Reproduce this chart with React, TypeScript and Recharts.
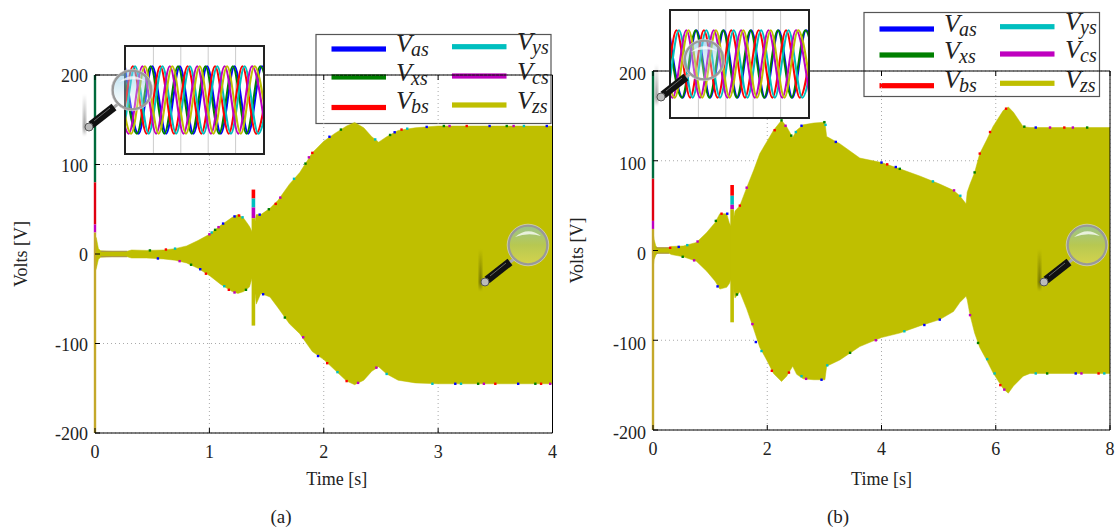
import { ComposedChart, Area, Line, Scatter, XAxis, YAxis, CartesianGrid, ReferenceLine } from "recharts";

const FONT = "'Liberation Serif', 'Times New Roman', serif";
const INK = "#222";

const names = ["as", "xs", "bs", "ys", "cs", "zs"];
const colors = ["#0000ff", "#008000", "#ff0000", "#00bfbf", "#bf00bf", "#bfbf00"];
const yTicks = [-200, -100, 0, 100, 200];

// panel (a) envelope
const timeA = [0, 0.012, 0.03, 0.05, 0.15, 0.28, 0.32, 0.45, 0.6, 0.7, 0.8, 0.9, 1.0, 1.1, 1.2, 1.25, 1.3, 1.35, 1.38, 1.41, 1.45, 1.53, 1.6, 1.7, 1.79, 1.9, 2.0, 2.1, 2.2, 2.27, 2.35, 2.42, 2.48, 2.55, 2.65, 2.8, 3.0, 3.2, 3.5, 3.8, 4.0];
const upperA = [20, 18, 6, 3.5, 3, 3, 4.5, 4, 4.5, 6, 9, 15, 22, 32, 41, 44, 40, 31, 23, 44, 44, 51, 60, 78, 91, 113, 126, 135, 143, 147, 141, 131, 125, 131, 138, 141, 143, 143, 143, 143, 143];
const lowerA = [-20, -16, -6, -3.5, -3, -3, -4.5, -4.5, -5.5, -7, -10, -16, -24, -34, -42, -44, -42, -37, -24, -56, -44, -48, -60, -78, -89, -109, -118, -130, -142, -146, -141, -131, -126, -134, -141, -144, -145, -145, -145, -145, -145];

// panel (b) envelope
const timeB = [0, 0.02, 0.05, 0.08, 0.2, 0.28, 0.32, 0.53, 0.76, 0.94, 1.085, 1.17, 1.29, 1.335, 1.38, 1.435, 1.52, 1.64, 1.76, 1.87, 1.99, 2.11, 2.25, 2.34, 2.445, 2.515, 2.63, 2.81, 3.01, 3.04, 3.27, 3.62, 4.0, 4.32, 4.67, 5.02, 5.26, 5.37, 5.48, 5.5, 5.55, 5.63, 5.72, 5.84, 5.95, 6.13, 6.22, 6.31, 6.48, 6.6, 7.2, 8.0];
const upperB = [20, 12, 5, 3, 3, 3, 4.5, 5, 9, 20, 31, 41, 41, 31, 25, 44, 50, 70, 89, 108, 121, 134, 145, 138, 126, 134, 140, 142, 143, 127, 119, 103, 98, 91, 83, 74, 67, 61, 52, 65, 74, 87, 108, 123, 138, 156, 160, 154, 138, 137, 137, 137];
const lowerB = [-20, -10, -5, -3, -3, -3, -4.5, -7, -12, -23, -34, -43, -41, -37, -30, -53, -46, -65, -87, -108, -122, -137, -146, -140, -129, -138, -143, -144, -144, -129, -122, -107, -97, -92, -84, -77, -68, -58, -51, -55, -72, -92, -108, -122, -136, -154, -159, -151, -140, -137, -137, -137];

// brown rim of the quiet stretch right after start-up
const quietEdge = 3;
const quietStart = 0.05;
const quietEndA = 0.28;

// short stubs at t=0 and the switching instant, top of each colour, top down
const startPeaks = [200, 80, 33, 24];
const startBottom = -200;
const startColors = ["#006b3c", "#e00010", "#bf00bf", "#c4a82a"];
const stepPeaksA = [72, 62, 52, 40];
const stepPeaksB = [73, 61, 51, 46];
const stepBottom = -80;
const stepColors = ["#ff0000", "#00bfbf", "#bf00bf", "#bfbf00"];

// coloured specks that stick out past the yellow trace: [t, v]
const specksA: [number, number][][] = [
    [[0.55, -5], [0.92, -17], [1.12, 34], [1.22, 42], [1.47, -45], [1.44, 44], [1.95, -114], [2.05, 131], [2.62, 136], [2.9, 142], [3.15, -145], [3.45, 143], [3.7, -145], [3.95, 143]],
    [[0.48, 4], [0.84, -12], [1.05, 27], [1.32, -40], [1.52, 50], [1.66, -71], [1.84, 101], [2.15, 139], [2.58, 133], [3.05, 143], [3.35, -145], [3.6, 143], [3.85, -145]],
    [[0.62, 5], [0.97, -22], [1.17, -40], [1.26, 43], [1.58, 56], [1.9, 113], [2.03, -122], [2.2, -142], [2.68, 139], [3.25, 143], [3.5, -145], [3.9, -145]],
    [[0.7, 6], [1.02, 24], [1.13, -36], [1.29, 41], [1.74, 84], [2.12, -132], [2.45, 128], [2.73, 140], [2.95, -145], [3.2, -145], [3.75, 143], [2.55, -134]],
    [[0.74, -8], [1.0, 22], [1.08, 30], [1.22, -43], [1.62, 63], [1.82, -93], [1.87, 108], [2.3, -144], [2.46, -127], [3.1, 143], [3.4, -145], [3.66, 143], [3.98, -145]],
    [],
];
const specksB: [number, number][][] = [
    [[0.45, 4], [1.13, -40], [1.3, 41], [1.8, -102], [2.6, 139], [2.95, -144], [3.2, 121], [4.0, 98], [4.25, 93], [4.75, -83], [6.7, 137], [7.4, -137], [5.02, -77]],
    [[0.52, -7], [1.1, 33], [1.47, -49], [2.25, 145], [2.42, 128], [3.0, 143], [3.45, -114], [4.32, 91], [5.63, 87], [6.5, 138], [5.69, -103], [6.9, -137], [7.6, 137]],
    [[0.3, 3], [1.2, 41], [1.52, 50], [2.08, -134], [2.13, 134], [2.38, -136], [4.1, 96], [5.72, 108], [5.9, 132], [6.18, 158], [6.08, -150], [7.2, 137], [7.8, -137]],
    [[0.6, 6], [1.9, -112], [2.5, 132], [2.6, -140], [3.02, 140], [3.05, -128], [4.9, 77], [5.38, 61], [5.98, -137], [6.7, -137], [7.9, -137], [4.4, -90], [5.85, -121]],
    [[0.78, 10], [0.72, -11], [1.64, 70], [1.74, -82], [2.68, -143], [2.32, 139], [5.27, 67], [6.15, -155], [6.95, 137], [5.55, -72], [7.5, -137], [7.35, 137], [3.9, -100]],
    [],
];

// inset traces: time of every extreme in ms, each list opens on a positive peak
const insetA = [
    [-0.8, 9.2, 19.2, 29.3, 39.3, 49.2, 59.2, 69.2, 79.2, 89.2, 99.2, 109.2],
    [-2.0, 8, 18, 28, 38, 48, 58, 68, 78, 88, 98, 108],
    [-15, -5, 5, 15, 25, 35, 45, 55, 65, 75, 85, 95, 105],
    [-13.4, -3.4, 6.6, 16.6, 26.6, 36.6, 46.6, 56.6, 66.6, 76.6, 86.6, 96.6, 106.6],
    [-8, 2, 12, 22, 32, 42, 52, 62, 72, 82, 92, 102],
    [-6.2, 3.8, 13.8, 23.8, 33.8, 43.8, 53.8, 63.8, 73.8, 83.8, 93.8, 103.8],
];
const insetB = [
    [-1.4, 8.6, 18.6, 28.6, 38.6, 48.6, 58.6, 68.6, 78.6, 88.6, 98.6, 108.6],
    [-2.0, 8, 18, 28, 38, 48, 58, 68, 78, 88, 98, 108],
    [-16, -6, 4, 14, 24, 34, 44, 54, 64, 74, 84, 94, 104],
    [-14.2, -4.2, 5.8, 15.8, 25.8, 35.8, 45.8, 55.8, 65.8, 75.8, 85.8, 95.8, 105.8],
    [-8.8, 1.2, 11.2, 21.2, 31.2, 41.2, 51.2, 61.2, 71.2, 81.2, 91.2, 101.2],
    [-7.2, 2.8, 12.8, 22.8, 32.8, 42.8, 52.8, 62.8, 72.8, 82.8, 92.8, 102.8],
];
const insetGrid = [20, 40, 60, 80];

const Square = (props: any) => <rect x={props.cx - 1.2} y={props.cy - 1.2} width={2.4} height={2.4} fill={props.fill} />;
const NoLabel = () => <g />;

interface PanelProps {
    left: number;
    width: number;
    plotLeft: number;
    plotTop: number;
    plotBottom: number;
    plotRight: number;
    time: number[];
    upper: number[];
    lower: number[];
    xTicks: number[];
    xMax: number;
    stepPeaks: number[];
    specks: [number, number][][];
    xLabelShift: number;
    yLabelShift: number;
}

const Panel = (p: PanelProps) => {
    const data = p.time.map((t, i) => ({ t, band: [p.lower[i], p.upper[i]] }));
    return (
        <div style={{ position: "absolute", left: p.left, top: 0 }}>
            <ComposedChart
                width={p.width}
                height={529}
                data={data}
                margin={{ top: p.plotTop - 1, left: 0, right: p.width - p.plotRight - 1, bottom: 529 - p.plotBottom - 40 }}
            >
                <CartesianGrid stroke="#aaa" strokeDasharray="1 3" />
                <XAxis
                    dataKey="t"
                    type="number"
                    domain={[0, p.xMax]}
                    ticks={p.xTicks}
                    height={40}
                    stroke="#000"
                    tickSize={-5}
                    tickMargin={17}
                    tick={{ fontSize: 18, fontFamily: FONT, fill: INK }}
                    label={{ value: "Time [s]", position: "bottom", offset: 432 - p.plotBottom, dx: p.xLabelShift, style: { fontSize: 18, fontFamily: FONT, fill: INK } }}
                />
                <XAxis xAxisId="top" orientation="top" dataKey="t" type="number" domain={[0, p.xMax]} ticks={p.xTicks} height={1} stroke="#000" tickSize={-5} tick={NoLabel} />
                <YAxis
                    type="number"
                    domain={[-200, 200]}
                    ticks={yTicks}
                    width={p.plotLeft}
                    stroke="#000"
                    axisLine={false}
                    tickSize={-5}
                    tickMargin={12}
                    tick={{ fontSize: 18, fontFamily: FONT, fill: INK, dy: p.plotTop === 71 ? 3 : 1 }}
                    label={{ value: "Volts [V]", angle: -90, position: "insideLeft", offset: p.yLabelShift, style: { fontSize: 18, fontFamily: FONT, fill: INK, textAnchor: "middle" } }}
                />
                <YAxis yAxisId="right" orientation="right" type="number" domain={[-200, 200]} ticks={yTicks} width={1} stroke="#000" tickSize={-5} tick={NoLabel} />

                <Area dataKey="band" stroke="#bfbf00" strokeWidth={0.5} fill="#bfbf00" fillOpacity={1} isAnimationActive={false} dot={false} activeDot={false} />
                {[quietEdge, -quietEdge].map((v) => (
                    <Line
                        key={"quiet" + v}
                        data={[{ t: quietStart, v }, { t: quietEndA, v }]}
                        dataKey="v"
                        stroke="#a8924a"
                        strokeWidth={1}
                        dot={false}
                        activeDot={false}
                        isAnimationActive={false}
                    />
                ))}
                {p.specks.map((pts, i) =>
                    pts.length ? (
                        <Scatter
                            key={names[i]}
                            data={pts.map(([t, v]) => ({ t, v }))}
                            dataKey="v"
                            fill={colors[i]}
                            shape={Square}
                            isAnimationActive={false}
                        />
                    ) : null
                )}
                {startPeaks.map((v, i) => (
                    <Line
                        key={"start" + i}
                        data={[{ t: 0, v }, { t: 0, v: startPeaks[i + 1] ?? startBottom }]}
                        dataKey="v"
                        stroke={startColors[i]}
                        strokeWidth={2.4}
                        dot={false}
                        activeDot={false}
                        isAnimationActive={false}
                    />
                ))}
                {p.stepPeaks.map((v, i) => (
                    <Line
                        key={"step" + i}
                        data={[{ t: 1.385, v }, { t: 1.385, v: p.stepPeaks[i + 1] ?? stepBottom }]}
                        dataKey="v"
                        stroke={stepColors[i]}
                        strokeWidth={3.6}
                        dot={false}
                        activeDot={false}
                        isAnimationActive={false}
                    />
                ))}
            </ComposedChart>
        </div>
    );
};

const Inset = ({ left, top, peaks, amp }: { left: number; top: number; peaks: number[][]; amp: number }) => (
    <div style={{ position: "absolute", left, top, width: 141, height: 110, background: "#fff", border: "2px solid #222", boxSizing: "border-box" }}>
        <ComposedChart width={137} height={106} margin={{ top: 0, left: 0, right: 0, bottom: 0 }}>
            <XAxis dataKey="t" type="number" domain={[0, 100]} allowDataOverflow hide />
            <YAxis type="number" domain={[-220, 220]} allowDataOverflow hide />
            {insetGrid.map((x) => (
                <ReferenceLine key={x} x={x} stroke="#ccc" strokeWidth={1} />
            ))}
            {peaks.map((times, i) => (
                <Line
                    key={names[i]}
                    type="monotone"
                    data={times.map((t, k) => ({ t, v: k % 2 === 0 ? amp : -amp }))}
                    dataKey="v"
                    stroke={colors[i]}
                    strokeWidth={2}
                    dot={false}
                    activeDot={false}
                    isAnimationActive={false}
                />
            ))}
        </ComposedChart>
    </div>
);

const LegendBox = ({ box, lineX, textX, rowY, textY }: { box: number[]; lineX: number[]; textX: number[]; rowY: number[][]; textY: number[][] }) => (
    <svg style={{ position: "absolute", left: 0, top: 0 }} width={1115} height={529}>
        <rect x={box[0]} y={box[1]} width={box[2]} height={box[3]} fill="#fff" stroke="#555" strokeWidth={1.2} />
        {names.map((n, i) => {
            const col = i < 3 ? 0 : 1;
            const row = i % 3;
            return (
                <g key={n}>
                    <rect x={lineX[col]} y={rowY[col][row] - 2.6} width={54.5} height={5.2} fill={colors[i]} />
                    <text x={textX[col]} y={textY[col][row]} fontFamily={FONT} fontStyle="italic" fill="#222" fontSize={26}>
                        V
                    </text>
                    <text x={textX[col] + 15} y={textY[col][row] + 4} fontFamily={FONT} fontStyle="italic" fill="#222" fontSize={20}>
                        {n}
                    </text>
                </g>
            );
        })}
    </svg>
);

const Magnifier = ({ cx, cy }: { cx: number; cy: number }) => (
    <g>
        <rect x={cx - 49} y={cy + 4} width={3} height={42} fill="url(#streak)" filter="url(#soft)" />
        <line x1={cx - 14} y1={cy + 14} x2={cx - 19} y2={cy + 18} stroke="#aaa" strokeWidth={3} />
        <line x1={cx - 18} y1={cy + 17} x2={cx - 41} y2={cy + 35} stroke="#111" strokeWidth={8} />
        <line x1={cx - 22} y1={cy + 18} x2={cx - 38} y2={cy + 31} stroke="#666" strokeWidth={1} />
        <circle cx={cx - 43} cy={cy + 37} r={4} fill="#bbb" stroke="#555" strokeWidth={1} />
        <circle cx={cx} cy={cy} r={19} fill="url(#glass)" />
        <circle cx={cx} cy={cy} r={19.5} fill="none" stroke="#999" strokeWidth={2.6} />
        <circle cx={cx} cy={cy} r={20.8} fill="none" stroke="#ddd" strokeWidth={0.6} />
        <path d={`M ${cx - 13} ${cy - 8} Q ${cx} ${cy - 19} ${cx + 13} ${cy - 9} Q ${cx} ${cy - 13} ${cx - 13} ${cy - 8} Z`} fill="#fff" opacity={0.75} />
    </g>
);

export default function App() {
    return (
        <div style={{ position: "absolute", left: 0, top: 0, width: 1115, height: 529, overflow: "hidden", background: "#fff" }}>
            <LegendBox
                box={[316, 34.5, 235, 89]}
                lineX={[331.5, 452]}
                textX={[396, 517]}
                rowY={[[49, 77, 107.5], [46.7, 76, 105]]}
                textY={[[52, 81, 109], [50, 80, 109]]}
            />
            <LegendBox
                box={[864, 12.5, 235.5, 84]}
                lineX={[879.5, 1000]}
                textX={[944, 1065]}
                rowY={[[29, 55, 85.7], [26.7, 54, 83.3]]}
                textY={[[32, 59, 88], [30, 58, 88]]}
            />
            <Panel left={0} width={570} plotLeft={95} plotRight={552.5} plotTop={75} plotBottom={433} time={timeA} upper={upperA} lower={lowerA} xTicks={[0, 1, 2, 3, 4]} xMax={4} stepPeaks={stepPeaksA} specks={specksA} xLabelShift={13} yLabelShift={21} />
            <Panel left={560} width={555} plotLeft={93} plotRight={550} plotTop={71} plotBottom={430} time={timeB} upper={upperB} lower={lowerB} xTicks={[0, 2, 4, 6, 8]} xMax={8} stepPeaks={stepPeaksB} specks={specksB} xLabelShift={0} yLabelShift={17} />
            <Inset left={124} top={45} peaks={insetA} amp={140} />
            <Inset left={669} top={9} peaks={insetB} amp={140} />
            <svg style={{ position: "absolute", left: 0, top: 0 }} width={1115} height={529}>
                <defs>
                    <linearGradient id="glass" x1="0" y1="0" x2="0" y2="1">
                        <stop offset="0%" stopColor="#7fc4e8" stopOpacity={0.6} />
                        <stop offset="50%" stopColor="#a8d8e8" stopOpacity={0.35} />
                        <stop offset="100%" stopColor="#ffffff" stopOpacity={0.3} />
                    </linearGradient>
                    <linearGradient id="streak" x1="0" y1="0" x2="0" y2="1">
                        <stop offset="0%" stopColor="#000" stopOpacity={0} />
                        <stop offset="80%" stopColor="#000" stopOpacity={0.45} />
                        <stop offset="100%" stopColor="#000" stopOpacity={0} />
                    </linearGradient>
                    <filter id="soft">
                        <feGaussianBlur stdDeviation="0.8" />
                    </filter>
                </defs>
                <Magnifier cx={132} cy={90} />
                <Magnifier cx={528} cy={245} />
                <Magnifier cx={704} cy={60} />
                <Magnifier cx={1087} cy={245} />
            </svg>
            <div style={{ position: "absolute", left: 251, width: 60, top: 506, textAlign: "center", fontFamily: FONT, fontSize: 19, color: INK }}>(a)</div>
            <div style={{ position: "absolute", left: 808, width: 60, top: 506, textAlign: "center", fontFamily: FONT, fontSize: 19, color: INK }}>(b)</div>
        </div>
    );
}
